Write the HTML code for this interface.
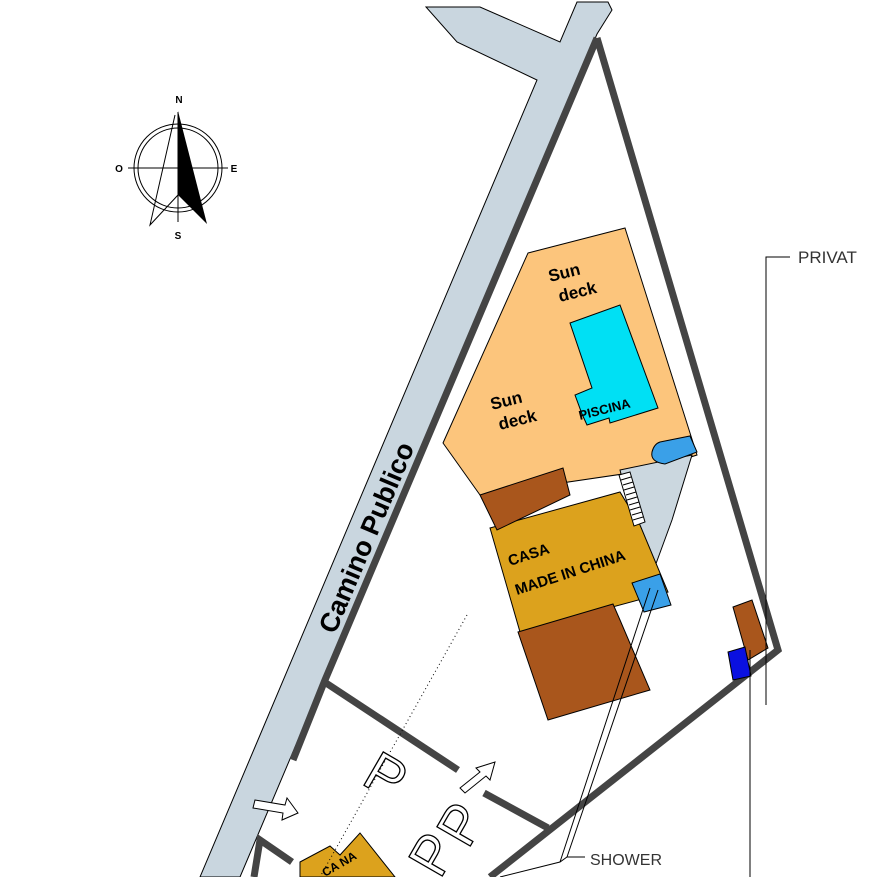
<!DOCTYPE html>
<html><head><meta charset="utf-8"><style>html,body{margin:0;padding:0;background:#fff}svg{display:block}</style></head>
<body>
<svg width="877" height="877" viewBox="0 0 877 877" xmlns="http://www.w3.org/2000/svg" font-family="Liberation Sans, sans-serif">
<rect width="877" height="877" fill="#fff"/>
<!-- road -->
<polygon points="426,7 480,7 560,42 577,2 608,2 612,10 597,34 240,877 200,877 537,80 457,42" fill="#c9d6df" stroke="#000" stroke-width="1"/>
<!-- walls -->
<g stroke="#444" stroke-width="7" fill="none" stroke-linecap="butt">
<polyline points="597,38 778,650 490,877"/>
<polyline points="597,38 325,680 293,760"/>
<line x1="326" y1="683" x2="458" y2="770"/>
<line x1="484" y1="793" x2="548" y2="828"/>
<polyline points="254,877 260,840 292,862"/>
</g>
<!-- sun deck -->
<polygon points="528,253 625,228 697,455 650,470 480,495 443,443" fill="#fcc57c" stroke="#000" stroke-width="1"/>
<!-- gray area -->
<polygon points="620,470 692,455 672,520 650,580 630,510" fill="#cbd7df" stroke="#000" stroke-width="1"/>
<!-- pool -->
<polygon points="570,323 620,305 658,408 610,423 609,418 587,425 582,414 575,395 592,388" fill="#00e0f4" stroke="#000" stroke-width="1"/>
<path d="M660,442 L690,436 L697,452 L665,464 Q650,462 652,452 Q654,444 660,442Z" fill="#3aa0e8" stroke="#000" stroke-width="1"/>
<!-- casa -->
<polygon points="490,528 620,492 640,525 668,592 520,632" fill="#dca21d" stroke="#000" stroke-width="1"/>
<polygon points="480,495 563,468 570,495 497,530" fill="#a9561c" stroke="#000" stroke-width="1"/>
<g stroke="#000" stroke-width="1">
<polygon points="619,475 630,472 645,522 634,526" fill="#fff"/>
<path d="M621,480 l10,-3 M623,485 l10,-3 M624,490 l10,-3 M626,495 l10,-3 M627,500 l10,-3 M629,505 l10,-3 M630,510 l10,-3 M632,515 l10,-3 M633,520 l10,-3" />
</g>
<polygon points="518,632 613,604 620,620 650,690 548,720" fill="#a9561c" stroke="#000" stroke-width="1"/>
<polygon points="632,583 660,574 671,605 644,612" fill="#3aa0e8" stroke="#000" stroke-width="1"/>
<polygon points="733,607 752,600 768,648 748,660" fill="#a9561c" stroke="#000" stroke-width="1"/>
<polygon points="728,652 745,647 751,676 733,680" fill="#0a10e0" stroke="#000" stroke-width="1"/>
<!-- labels -->
<g font-weight="bold" fill="#000">
<text x="550" y="282" font-size="17" transform="rotate(-14 550 282)">Sun</text>
<text x="560" y="302" font-size="17" transform="rotate(-14 560 302)">deck</text>
<text x="492" y="410" font-size="17" transform="rotate(-14 492 410)">Sun</text>
<text x="500" y="430" font-size="17" transform="rotate(-14 500 430)">deck</text>
<text x="580" y="420" font-size="13" transform="rotate(-14 580 420)">PISCINA</text>
<text x="510" y="566" font-size="15" transform="rotate(-18 510 566)">CASA</text>
<text x="517" y="595" font-size="15" transform="rotate(-18 517 595)">MADE IN CHINA</text>
<text x="335" y="635" font-size="27" transform="rotate(-67 335 635)">Camino Publico</text>
</g>
<!-- bottom casa -->
<polygon points="300,862 330,846 340,855 360,833 395,877 300,877" fill="#dca21d" stroke="#000" stroke-width="1"/>
<text x="325" y="877" font-size="12" font-weight="bold" transform="rotate(-30 325 877)">CA NA</text>
<!-- dotted -->
<line x1="467" y1="615" x2="320" y2="877" stroke="#000" stroke-width="1" stroke-dasharray="1,3"/>
<!-- P letters -->
<g fill="#fff" stroke="#000" stroke-width="1.3" font-size="56">
<text x="360" y="783" transform="rotate(30 360 783)">P</text>
<text x="468" y="850" transform="rotate(-60 468 850)">P</text>
<text x="440" y="880" transform="rotate(-60 440 880)">P</text>
</g>
<!-- arrows -->
<polygon points="255,800 285,805 287,798 298,813 282,820 283,813 253,808" fill="#fff" stroke="#000" stroke-width="1"/>
<polygon points="460,788 480,772 476,768 495,762 490,780 486,776 465,793" fill="#fff" stroke="#000" stroke-width="1"/>
<!-- privat -->
<polyline points="790,257 766,257 766,705" fill="none" stroke="#000" stroke-width="1"/>
<line x1="750" y1="650" x2="750" y2="877" stroke="#000" stroke-width="1"/>
<text x="798" y="263" font-size="17" fill="#333">PRIVAT</text>
<!-- shower -->
<polyline points="585,857 567,857 560,862 500,877" fill="none" stroke="#000" stroke-width="1"/>
<line x1="567" y1="857" x2="658" y2="590" stroke="#000" stroke-width="1"/>
<line x1="560" y1="862" x2="650" y2="588" stroke="#000" stroke-width="1"/>
<text x="590" y="865" font-size="16" fill="#333">SHOWER</text>
<!-- compass -->
<g stroke="#000" fill="none" stroke-width="1">
<circle cx="178" cy="168" r="44"/>
<circle cx="178" cy="168" r="40"/>
<line x1="128" y1="168" x2="228" y2="168"/>
<line x1="178" y1="112" x2="178" y2="222"/>
<polyline points="175,115 150,225 178,195"/>
</g>
<polygon points="178,111 207,224 178,195" fill="#000"/>
<g font-size="10" font-weight="bold" text-anchor="middle">
<text x="179" y="103">N</text><text x="119" y="172">O</text><text x="234" y="172">E</text><text x="178" y="239">S</text>
</g>
</svg>
</body></html>
